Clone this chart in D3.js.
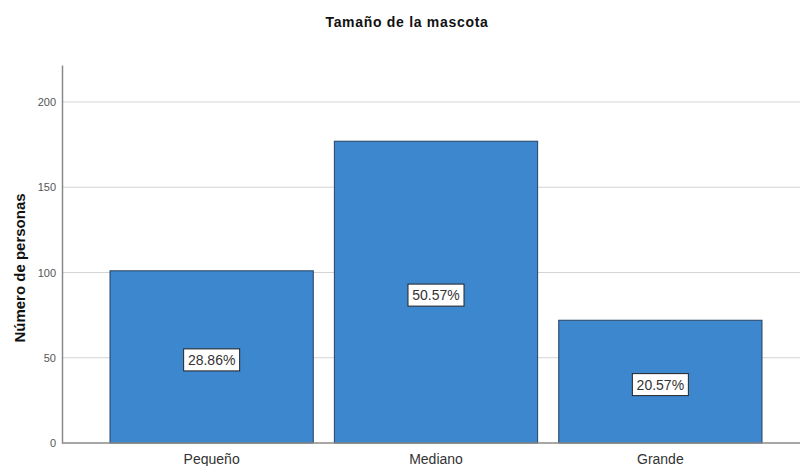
<!DOCTYPE html>
<html><head><meta charset="utf-8">
<script src="https://cdn.jsdelivr.net/npm/d3@7"></script>
<style>body{margin:0;background:#fff}svg{display:block}</style>
</head><body>
<svg id="c" width="802" height="466"></svg>
<script>
const categories = ["Pequeño", "Mediano", "Grande"];
const counts = [101, 177, 72];
const pctLabels = ["28.86%", "50.57%", "20.57%"];
const yTicks = [0, 50, 100, 150, 200];

const svg = d3.select("#c");
const x = d3.scaleBand().domain(categories).range([62, 810]).paddingInner(0.094).paddingOuter(0.214);
const y = d3.scaleLinear().domain([0, 221.7]).range([443, 65]);
const font = "Arial, 'Liberation Sans', sans-serif";

// gridlines
svg.append("g").selectAll("line").data(yTicks.filter(d => d > 0)).join("line")
  .attr("x1", 62).attr("x2", 800).attr("y1", d => y(d)).attr("y2", d => y(d))
  .attr("stroke", "#d4d4d4").attr("stroke-width", 1);

// y axis
const ya = svg.append("g").attr("transform", "translate(62,0)")
  .call(d3.axisLeft(y).tickValues(yTicks).tickSize(0).tickPadding(6));
ya.select(".domain").attr("stroke", "#8a8a8a").attr("stroke-width", 1.5);
ya.selectAll("text").attr("font-family", font).attr("font-size", 11).attr("fill", "#555");

// bars
svg.append("g").selectAll("rect").data(categories).join("rect")
  .attr("x", d => x(d)).attr("width", x.bandwidth())
  .attr("y", (d, i) => y(counts[i])).attr("height", (d, i) => y(0) - y(counts[i]))
  .attr("fill", "#3d87cf").attr("stroke", "#27415e").attr("stroke-width", 1);

// x baseline
svg.append("line").attr("x1", 62).attr("x2", 800).attr("y1", y(0)).attr("y2", y(0))
  .attr("stroke", "#8a8a8a").attr("stroke-width", 1.5);

// x labels
svg.append("g").selectAll("text").data(categories).join("text")
  .attr("x", d => x(d) + x.bandwidth() / 2).attr("y", 464)
  .attr("text-anchor", "middle").attr("font-family", font).attr("font-size", 14).attr("fill", "#333")
  .text(d => d);

// percentage labels
const lg = svg.append("g").selectAll("g").data(categories).join("g")
  .attr("transform", (d, i) => `translate(${x(d) + x.bandwidth() / 2},${(y(counts[i]) + y(0)) / 2 + 3})`);
lg.append("rect").attr("x", -28).attr("y", -11).attr("width", 56).attr("height", 22)
  .attr("fill", "#fff").attr("stroke", "#222").attr("stroke-width", 1);
lg.append("text").attr("text-anchor", "middle").attr("y", 5)
  .attr("font-family", font).attr("font-size", 14).attr("fill", "#333")
  .text((d, i) => pctLabels[i]);

// y title
svg.append("text").attr("transform", "translate(25,268) rotate(-90)")
  .attr("text-anchor", "middle").attr("font-family", font).attr("font-size", 15)
  .attr("font-weight", "bold").attr("fill", "#111").text("Número de personas");

// title
svg.append("text").attr("x", 407).attr("y", 27).attr("text-anchor", "middle")
  .attr("font-family", font).attr("font-size", 14).attr("letter-spacing", 0.7)
  .attr("font-weight", "bold").attr("fill", "#111")
  .text("Tamaño de la mascota");
</script>
</body></html>
